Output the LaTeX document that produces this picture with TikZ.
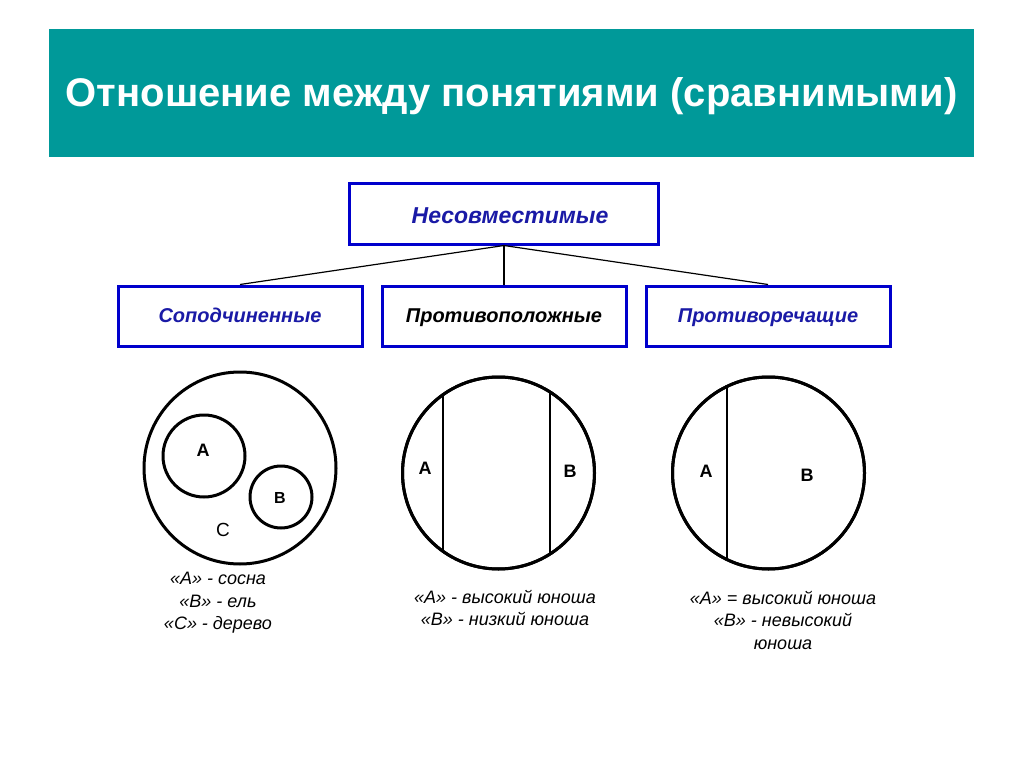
\documentclass[tikz,border=0pt]{standalone}
\usepackage{fontspec}
\setmainfont{Liberation Sans}
\definecolor{teal}{HTML}{009999}
\definecolor{boxblue}{HTML}{0000CC}
\definecolor{txtblue}{HTML}{1A1AA6}
\begin{document}
\begin{tikzpicture}[x=1pt,y=-1pt,
  catbox/.style={draw=boxblue,line width=3pt,minimum width=244pt,minimum height=60pt,inner sep=0pt},
  boxtext/.style={font=\fontsize{20}{24}\selectfont\bfseries\itshape,inner sep=0pt,anchor=base},
  ring/.style={draw=black,line width=3pt},
  thin/.style={draw=black,line width=1.2pt},
  lett/.style={font=\fontsize{18}{20}\selectfont\bfseries,inner sep=0pt},
  capt/.style={font=\fontsize{18}{22.5}\selectfont\itshape,align=center,inner sep=0pt}]
\useasboundingbox (0,0) rectangle (1024,767);
\fill[white] (0,0) rectangle (1024,767);
\node[fill=teal,minimum width=925pt,minimum height=128pt,inner sep=0pt] (title) at (511.5,93) {};
\node[text=white,font=\fontsize{40}{46}\selectfont\bfseries] (ttext) at (511.5,96) {Отношение между понятиями (сравнимыми)};
\node[catbox,minimum width=309pt] (top) at (504,214) {};
\node[boxtext,text=txtblue,font=\fontsize{23}{26}\selectfont\bfseries\itshape] at (510,224) {Несовместимые};
\node[catbox] (sub) at (240,316) {};
\node[boxtext,text=txtblue] at (240,322) {Соподчиненные};
\node[catbox] (opp) at (504,316) {};
\node[boxtext,text=black] at (504,322) {Противоположные};
\node[catbox] (con) at (768,316) {};
\node[boxtext,text=txtblue] at (768,322) {Противоречащие};
\draw[thin] (top.south) -- (sub.north);
\draw[thin] (top.south) -- (opp.north);
\draw[thin] (top.south) -- (con.north);
% circle 1
\node[ring,circle,minimum size=192pt,inner sep=0pt] (c1) at (240,468) {};
\node[ring,circle,minimum size=82pt,inner sep=0pt] (ca) at (204,456) {};
\node[ring,circle,minimum size=62pt,inner sep=0pt] (cb) at (281,497) {};
\node[lett] (la) at (203,450) {A};
\node[lett,font=\fontsize{16}{18}\selectfont\bfseries] (lb) at (280,498) {B};
\node[lett,font=\fontsize{19}{20}\selectfont] (lc) at (223,530) {C};
\node[capt] (t1) at (218,603) {«A» - сосна\\«B» - ель\\«C» - дерево};
% circle 2
\node[ring,circle,minimum size=192pt,inner sep=0pt] (c2) at (498.5,473) {};
\begin{scope}
\clip (c2.center) circle (95pt);
\draw[thin] (443,370) -- (443,580);
\draw[thin] (550,370) -- (550,580);
\end{scope}
\node[ring,circle,minimum size=192pt,inner sep=0pt] at (c2.center) {};
\node[lett] (la2) at (425,468) {A};
\node[lett] (lb2) at (570,471) {B};
\node[capt] (t2) at (505,608) {«A» - высокий юноша\\«B» - низкий юноша};
% circle 3
\node[ring,circle,minimum size=192pt,inner sep=0pt] (c3) at (768.5,473) {};
\begin{scope}
\clip (c3.center) circle (95pt);
\draw[thin] (727,370) -- (727,580);
\end{scope}
\node[ring,circle,minimum size=192pt,inner sep=0pt] at (c3.center) {};
\node[lett] (la3) at (706,471) {A};
\node[lett] (lb3) at (807,475) {B};
\node[capt] (t3) at (783,620) {«A» = высокий юноша\\«B» - невысокий\\юноша};
\end{tikzpicture}
\end{document}
